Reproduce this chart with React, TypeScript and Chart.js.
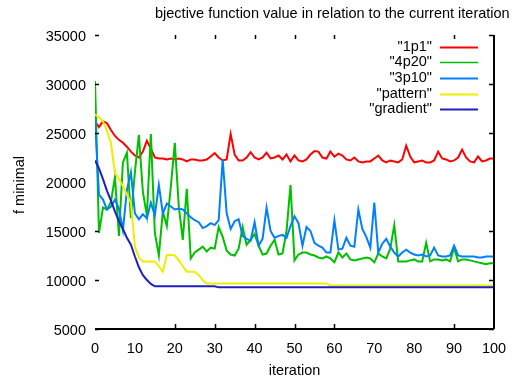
import { useEffect, useRef } from "react";
import { Chart, registerables } from "chart.js";

Chart.register(...registerables);

// x positions: one value per iteration
const iterations = Array.from({ length: 101 }, (_, i) => i);

const seriesNames = ['"1p1"', '"4p20"', '"3p10"', '"pattern"', '"gradient"'];
const seriesColors = ["#ff0000", "#00c000", "#0080ff", "#eeee00", "#2020c0"];

const values1p1 = [
  26200, 25600, 26200, 26000, 25300, 24700, 24300, 24000, 23600, 23100,
  22700, 22500, 23100, 24200, 23400, 22500, 22400, 22400, 22300, 22400,
  22300, 22400, 22300, 22100, 22300, 22300, 22200, 22200, 22300, 22600,
  22950, 22500, 22200, 22300, 24900, 22800, 22200, 22200, 22500, 23050,
  22500, 22300, 22500, 23000, 22400, 22500, 22700, 22300, 22800, 22100,
  22700, 22200, 22100, 22300, 22800, 23150, 23100, 22500, 22400, 23100,
  22600, 22900, 22700, 22300, 22200, 22500, 22100, 22000, 22100, 22100,
  22400, 22700, 22200, 22000, 22200, 22100, 22000, 22300, 23700, 22600,
  22000, 22100, 22200, 22000, 22000, 22200, 23100, 22400, 22300, 22100,
  22200, 22500, 23300, 22500, 22100, 22000, 22600, 22100, 22200, 22400,
  22400,
];

const values4p20 = [
  30300, 14800, 17400, 17200, 18000, 20500, 14500, 22000, 23000, 16300,
  21000, 24800, 19000, 16600, 24900, 14800, 12500, 17000, 15500, 19500,
  24000, 17500, 14100, 19300, 12200, 12800, 13100, 13400, 12900, 13300,
  13200, 15400, 14400, 13000, 12600, 12500, 13200, 15400, 13600, 14100,
  14700, 13500, 12600, 12700, 13500, 14100, 12600, 12700, 15000, 19700,
  12000, 12600, 12800, 12800, 12600, 12500, 12300, 12200, 12400, 12200,
  11800, 12800, 12300, 12700, 12100, 12000, 12100, 12200, 12300, 12200,
  11800, 12700, 12400, 12200, 13200, 15600, 11900, 11900, 11900, 12000,
  12100, 11900, 11900, 13800, 11900, 12100, 12100, 12000, 12100, 11900,
  13300, 11900, 12100, 12100, 12000, 11900, 11800, 11700, 11600, 11700,
  11700,
];

const values3p10 = [
  26500, 18700, 18200, 17200, 17500, 18200, 17300, 15100, 19200, 21000,
  16800, 16200, 16700, 16300, 17900, 16600, 19700, 16800, 17800, 17500,
  17200, 17300, 17200, 16800, 16400, 16100, 15900, 15300, 15500, 15800,
  15600, 16100, 22300, 16800, 15200, 16000, 16200, 14500, 14200, 14000,
  15900, 13500, 14200, 17400, 15000, 14300, 14500, 14600, 14300, 15500,
  16500, 15800, 13500, 15400, 15000, 13800, 13500, 13300, 12800, 12800,
  16100, 13100, 13200, 14300, 13500, 13400, 17200, 15200, 14400, 13300,
  17900, 12800, 13700, 14200, 13400, 12800, 12400, 12800, 13100, 12800,
  12600, 12500, 12600, 12400, 12500, 13300, 12500, 12400, 12400, 12500,
  13500, 12500, 12400, 12400, 12400, 12400, 12300, 12300, 12400, 12400,
  12400,
];

const valuesPattern = [
  26900, 26600, 26200, 25200, 24000, 20900, 20300, 19600, 18700, 17900,
  13400, 12300, 11900, 11900, 11900, 11900, 11400, 10850, 12550, 12550,
  12500, 12000, 11400, 10850, 10850, 10850, 10500, 10000, 9650, 9650,
  9650, 9650, 9650, 9650, 9650, 9650, 9650, 9650, 9650, 9650,
  9650, 9650, 9650, 9650, 9650, 9650, 9650, 9650, 9650, 9650,
  9650, 9650, 9650, 9650, 9650, 9650, 9650, 9650, 9650, 9450,
  9450, 9450, 9450, 9450, 9450, 9450, 9450, 9450, 9450, 9450,
  9450, 9450, 9450, 9450, 9450, 9450, 9450, 9450, 9450, 9450,
  9450, 9450, 9450, 9450, 9450, 9450, 9450, 9450, 9450, 9450,
  9450, 9450, 9450, 9450, 9450, 9450, 9450, 9450, 9450, 9450,
  9450,
];

const valuesGradient = [
  22200, 21400, 20300, 19100, 18100, 17000, 16000, 15200, 14300, 13600,
  12400, 11300, 10500, 10000, 9600, 9350, 9350, 9350, 9350, 9350,
  9350, 9350, 9350, 9350, 9350, 9350, 9350, 9350, 9350, 9350,
  9350, 9250, 9250, 9250, 9250, 9250, 9250, 9250, 9250, 9250,
  9250, 9250, 9250, 9250, 9250, 9250, 9250, 9250, 9250, 9250,
  9250, 9250, 9250, 9250, 9250, 9250, 9250, 9250, 9250, 9250,
  9250, 9250, 9250, 9250, 9250, 9250, 9250, 9250, 9250, 9250,
  9250, 9250, 9250, 9250, 9250, 9250, 9250, 9250, 9250, 9250,
  9250, 9250, 9250, 9250, 9250, 9250, 9250, 9250, 9250, 9250,
  9250, 9250, 9250, 9250, 9250, 9250, 9250, 9250, 9250, 9250,
  9250,
];

const seriesValues = [values1p1, values4p20, values3p10, valuesPattern, valuesGradient];

// tick positions that carry a small inward tick mark on the frame
const xTickMarks = [20, 30, 40, 50, 60, 90];
const yTickMarks = [5000, 10000, 15000, 25000, 30000, 35000];

const titleText = "bjective function value in relation to the current iteration";
const xTitle = "iteration";
const yTitle = "f minimal";

const FAMILY = '"Liberation Sans", Arial, sans-serif';
const SIZE = 14.5;
const FONT = `${SIZE}px ${FAMILY}`;

const framePlugin = {
  id: "gnuplotFrame",
  afterDatasetsDraw(chart: any) {
    const { ctx, chartArea, scales } = chart;
    const xs = scales.x;
    const ys = scales.y;
    ctx.save();
    ctx.strokeStyle = "#000";

    // bottom and right border
    ctx.lineWidth = 2;
    ctx.beginPath();
    ctx.moveTo(chartArea.left, chartArea.bottom);
    ctx.lineTo(chartArea.right, chartArea.bottom);
    ctx.moveTo(chartArea.right, chartArea.bottom);
    ctx.lineTo(chartArea.right, chartArea.top);
    ctx.stroke();

    // inward tick marks
    ctx.lineWidth = 1.5;
    ctx.beginPath();
    for (const v of xTickMarks) {
      const px = Math.round(xs.getPixelForValue(v)) + 0.5;
      ctx.moveTo(px, chartArea.bottom);
      ctx.lineTo(px, chartArea.bottom - 5);
      ctx.moveTo(px, chartArea.top);
      ctx.lineTo(px, chartArea.top + 4);
    }
    for (const v of yTickMarks) {
      const py = Math.round(ys.getPixelForValue(v)) + 0.5;
      ctx.moveTo(chartArea.left, py);
      ctx.lineTo(chartArea.left + 4, py);
      ctx.moveTo(chartArea.right, py);
      ctx.lineTo(chartArea.right - 5, py);
    }
    ctx.stroke();

    ctx.fillStyle = "#000";
    ctx.font = FONT;
    ctx.textBaseline = "middle";

    // title
    ctx.textAlign = "left";
    ctx.fillText(titleText, 155, 14);

    // axis titles
    ctx.textAlign = "center";
    ctx.fillText(xTitle, (chartArea.left + chartArea.right) / 2, 371);
    ctx.save();
    ctx.translate(20, 185);
    ctx.rotate(-Math.PI / 2);
    ctx.fillText(yTitle, 0, 0);
    ctx.restore();

    // key
    const rowY0 = 46.5;
    const rowStep = 15.7;
    seriesNames.forEach((name, i) => {
      const y = rowY0 + i * rowStep;
      ctx.textAlign = "right";
      ctx.fillStyle = "#000";
      ctx.fillText(name, 432, y);
      ctx.strokeStyle = seriesColors[i];
      ctx.lineWidth = i === 1 ? 1.5 : 2;
      ctx.beginPath();
      ctx.moveTo(440, Math.round(y) + 0.5);
      ctx.lineTo(478, Math.round(y) + 0.5);
      ctx.stroke();
    });

    ctx.restore();
  },
};

export default function App() {
  const canvasRef = useRef<HTMLCanvasElement | null>(null);

  useEffect(() => {
    document.body.style.margin = "0";
    const canvas = canvasRef.current;
    if (!canvas) return;

    const datasets = seriesValues.map((vals, idx) => ({
      label: seriesNames[idx],
      data: vals.map((v, i) => ({ x: iterations[i], y: v })),
      borderColor: seriesColors[idx],
      backgroundColor: seriesColors[idx],
      borderWidth: 2,
      pointRadius: 0,
      tension: 0,
      fill: false,
      order: seriesValues.length - 1 - idx,
    }));

    const chart = new Chart(canvas, {
      type: "line",
      data: { datasets },
      options: {
        animation: false,
        responsive: false,
        maintainAspectRatio: false,
        layout: { padding: { left: 0, top: 35, right: 27, bottom: 0 } },
        plugins: {
          legend: { display: false },
          title: { display: false },
          tooltip: { enabled: false },
        },
        scales: {
          x: {
            type: "linear",
            min: 0,
            max: 100,
            grid: { display: false, drawTicks: false },
            border: { display: false },
            ticks: {
              stepSize: 10,
              padding: 11,
              color: "#000",
              font: { family: FAMILY, size: SIZE },
              maxRotation: 0,
              callback: (v: any) => String(v),
            },
            afterFit: (scale: any) => {
              scale.height = 50;
            },
          },
          y: {
            type: "linear",
            min: 5000,
            max: 35000,
            grid: { display: false, drawTicks: false },
            border: { display: false },
            ticks: {
              stepSize: 5000,
              padding: 9,
              labelOffset: 2,
              color: "#000",
              font: { family: FAMILY, size: SIZE },
              callback: (v: any) => String(v),
            },
            afterFit: (scale: any) => {
              scale.width = 95;
            },
          },
        },
      },
      plugins: [framePlugin],
    });

    return () => chart.destroy();
  }, []);

  return (
    <div style={{ position: "absolute", left: 0, top: 0, width: 521, height: 379, background: "#fff" }}>
      <canvas ref={canvasRef} width={521} height={379} />
    </div>
  );
}
